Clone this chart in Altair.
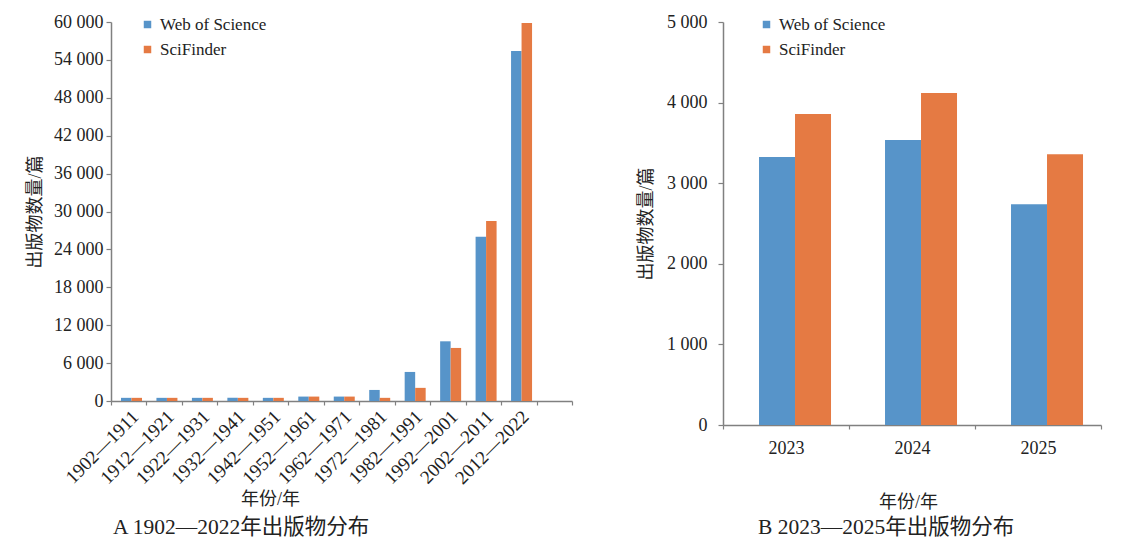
import altair as alt
import pandas as pd

series = ["Web of Science", "SciFinder"]
colors = ["#5794c9", "#e57a43"]

periods = ["1902—1911", "1912—1921", "1922—1931", "1932—1941", "1942—1951",
           "1952—1961", "1962—1971", "1972—1981", "1982—1991", "1992—2001",
           "2002—2011", "2012—2022"]
wos_a = [500, 500, 500, 500, 500, 700, 700, 1750, 4600, 9450, 26000, 55400]
sf_a = [500, 500, 500, 500, 500, 700, 700, 500, 2080, 8400, 28500, 59850]

years = ["2023", "2024", "2025"]
wos_b = [3325, 3535, 2740]
sf_b = [3860, 4120, 3360]

ticks_a = list(range(0, 60001, 6000))
ticks_b = list(range(0, 5001, 1000))

FONT = "'Liberation Serif', 'Times New Roman', 'Noto Sans CJK SC', serif"
LABEL_EXPR = "replace(format(datum.value, ','), ',', ' ')"

df_a = pd.DataFrame(
    [{"cat": c, "series": series[0], "value": v} for c, v in zip(periods, wos_a)]
    + [{"cat": c, "series": series[1], "value": v} for c, v in zip(periods, sf_a)]
)
df_b = pd.DataFrame(
    [{"cat": c, "series": series[0], "value": v} for c, v in zip(years, wos_b)]
    + [{"cat": c, "series": series[1], "value": v} for c, v in zip(years, sf_b)]
)


def legend(x):
    return alt.Legend(title=None, orient="none", legendX=x, legendY=-6,
                      symbolType="square", symbolSize=56, symbolStrokeWidth=0,
                      labelFont=FONT, labelFontSize=17, labelColor="#222",
                      labelOffset=4, rowPadding=7, padding=0)


def caption(text, dx, offset):
    return alt.TitleParams(text, orient="bottom", anchor="start", frame="group",
                           dx=dx, offset=offset, font=FONT, fontSize=21.5,
                           fontWeight="normal", color="#222")


left = alt.Chart(df_a).mark_bar().encode(
    x=alt.X("cat:N", sort=periods,
            scale=alt.Scale(domain=periods + [" "], paddingInner=0, paddingOuter=0),
            axis=alt.Axis(title="年份/年", labelAngle=-45, labelAlign="right",
                          labelBaseline="top", tickBand="extent", tickSize=4,
                          labelFontSize=19, labelPadding=2, titleX=159, titleY=89,
                          titleBaseline="top")),
    xOffset=alt.XOffset("series:N", sort=series,
                        scale=alt.Scale(domain=series, paddingOuter=0.689, align=0.69)),
    y=alt.Y("value:Q", scale=alt.Scale(domain=[0, 60000], nice=False),
            axis=alt.Axis(values=ticks_a, labelExpr=LABEL_EXPR, title="出版物数量/篇",
                          tickSize=5, labelPadding=3, titleX=-76,
                          titleBaseline="middle")),
    color=alt.Color("series:N", sort=series,
                    scale=alt.Scale(domain=series, range=colors), legend=legend(28)),
).properties(width=461, height=379, title=caption("A  1902—2022年出版物分布", 2, 9))

right = alt.Chart(df_b).mark_bar().encode(
    x=alt.X("cat:N", sort=years,
            scale=alt.Scale(domain=years, paddingInner=0, paddingOuter=0),
            axis=alt.Axis(title="年份/年", labelAngle=0, tickBand="extent", tickSize=4,
                          labelPadding=10, titleX=185, titleY=68, titleBaseline="top")),
    xOffset=alt.XOffset("series:N", sort=series,
                        scale=alt.Scale(domain=series, paddingOuter=0.75, align=0.667)),
    y=alt.Y("value:Q", scale=alt.Scale(domain=[0, 5000], nice=False),
            axis=alt.Axis(values=ticks_b, labelExpr=LABEL_EXPR, title="出版物数量/篇",
                          tickSize=5, labelPadding=11, titleX=-77,
                          titleBaseline="middle")),
    color=alt.Color("series:N", sort=series,
                    scale=alt.Scale(domain=series, range=colors), legend=legend(35)),
).properties(width=378, height=403, title=caption("B  2023—2025年出版物分布", 35, 6))

chart = alt.hconcat(left, right, spacing=64).resolve_scale(
    color="independent", x="independent", xOffset="independent", y="independent"
).properties(
    padding={"left": 18, "top": 5, "right": 5, "bottom": 5}
).configure_view(stroke=None).configure_axis(
    domainColor="#808080", tickColor="#808080", domainWidth=1.5, tickWidth=1.2,
    labelFont=FONT, labelFontSize=18, labelColor="#222", grid=False,
    titleFont=FONT, titleFontSize=18, titleFontWeight="normal", titleColor="#222",
)

chart.save("out.html", embed_options={"renderer": "svg", "actions": False})
